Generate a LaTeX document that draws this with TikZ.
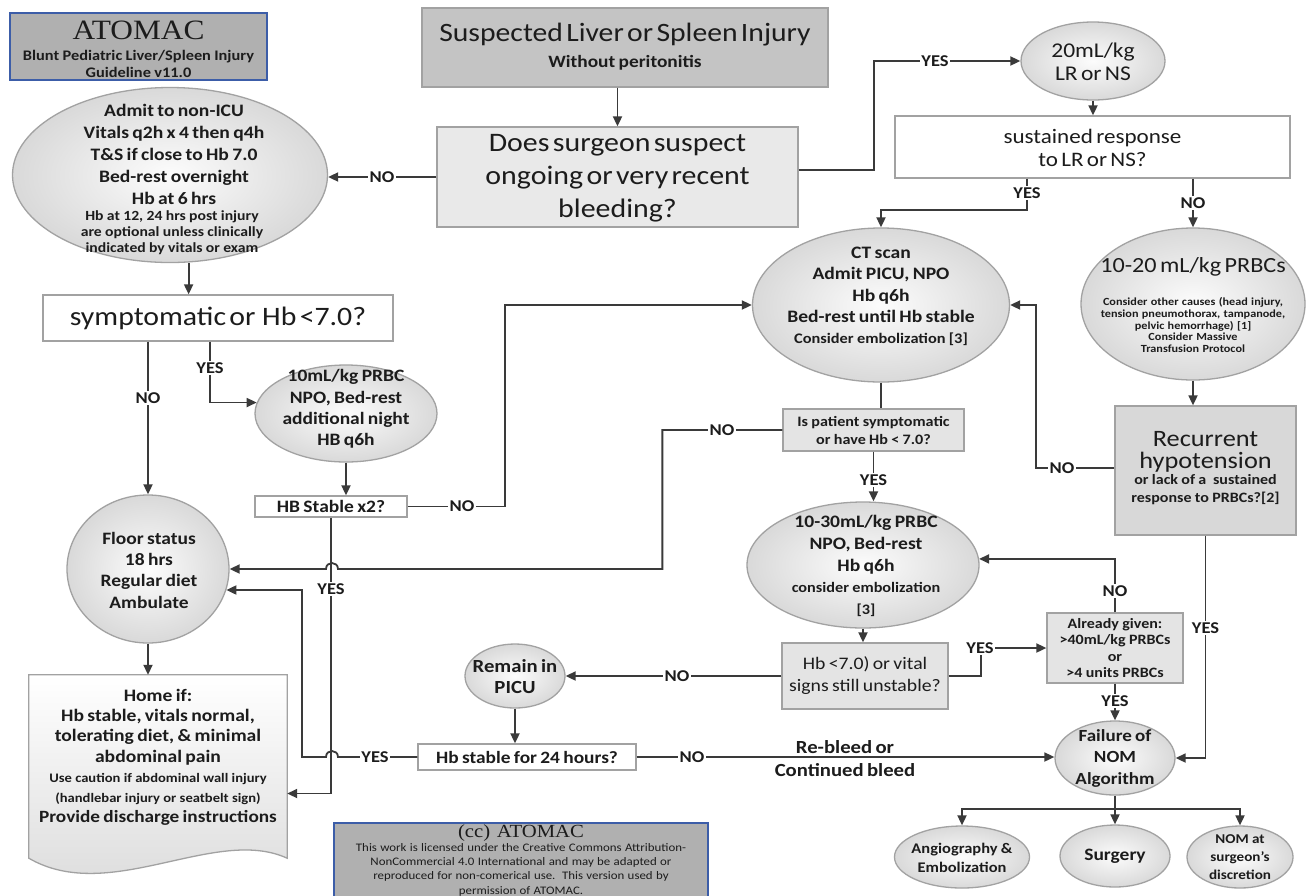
\documentclass[tikz,border=0pt]{standalone}
\usepackage{fontspec}
\setmainfont{Carlito}[FakeStretch=1.12, WordSpace=1.35]
\newfontfamily\serifont{Liberation Serif}[FakeStretch=1.12]
\usetikzlibrary{shapes.geometric,arrows.meta,calc}
\newcommand\myfs[2]{\fontsize{#1}{#2}\selectfont}
\definecolor{lc}{HTML}{3A3A3A}
\definecolor{bc}{HTML}{A2A2A2}
\definecolor{tc}{HTML}{1C1C1C}
\definecolor{elo}{HTML}{D9D9D9}
\definecolor{eli}{HTML}{FCFCFC}
\definecolor{susf}{HTML}{C4C4C4}
\definecolor{decf}{HTML}{E9E9E9}
\definecolor{lgf}{HTML}{E4E4E4}
\definecolor{recf}{HTML}{D8D8D8}
\definecolor{atf}{HTML}{B0B0B0}
\definecolor{atb}{HTML}{3C5DA8}
\definecolor{homeg}{HTML}{DADADA}
\tikzset{
  conn/.style={draw=lc, line width=1.8pt},
  arr/.style={conn, -{Triangle[length=10pt,width=9pt]}},
  shp/.style={draw=bc, line width=1.3pt, inner sep=0pt},
  ell/.style={shp, ellipse, inner color=eli, outer color=elo},
  box/.style={shp, rectangle},
  ttl/.style={rectangle, draw=atb, line width=2pt, fill=atf, inner sep=0pt},
  txt/.style={align=center, inner sep=0pt, text=tc,
    execute at begin node={\setlength{\parindent}{0pt}\setlength{\lineskiplimit}{-50pt}}},
  lab/.style={fill=white, inner sep=1.2pt, text=tc, font={\bfseries\myfs{16.5}{18}}}
}
\begin{document}
\begin{tikzpicture}[x=1pt,y=-1pt]
\useasboundingbox (0,0) rectangle (1311,895);
\fill[white] (0,0) rectangle (1311,895);
\clip (0,0) rectangle (1311,895);

% ---------- title boxes
\node[ttl, minimum width=257, minimum height=67] (atom) at (138.5,46.5) {};
\node[txt, text width=250] (atomt) at (138.5,49) {{\serifont\myfs{28}{26}ATOMAC\par}{\bfseries\myfs{14.6}{21}Blunt Pediatric Liver/Spleen Injury\par}{\bfseries\myfs{14.6}{17}Guideline v11.0\par}};

\node[ttl, minimum width=374, minimum height=90, anchor=north] (cc) at (521,822) {};
\node[txt, text width=370, anchor=north] (cct) at (521,824) {{\serifont\myfs{18.5}{18}(cc)\ \ ATOMAC\par}{\myfs{11.5}{14.3}This work is licensed under the Creative Commons Attribution-\\NonCommercial 4.0 International and may be adapted or\\reproduced for non-comerical use.\ \ This version used by\\permission of ATOMAC.\par}};

% ---------- top
\node[box, fill=susf, minimum width=406, minimum height=79] (susp) at (625,47.5) {};
\node[txt, text width=400] (suspt) at (625,46.5) {{\myfs{26.5}{26}Suspected Liver or Spleen Injury\par}{\bfseries\myfs{17.3}{26}Without peritonitis\par}};

\node[box, fill=decf, minimum width=361, minimum height=100] (dec) at (617.5,177) {};
\node[txt, text width=355] (dect) at (617.5,178) {\myfs{26.7}{33}Does surgeon suspect\\ongoing or very recent\\bleeding?\par};

\node[ell, minimum width=315, minimum height=175] (adm) at (170,175) {};
\node[txt, text width=300] (admt1) at (174,154) {\bfseries\myfs{17.5}{22}Admit to non-ICU\\Vitals q2h x 4 then q4h\\T\&S if close to Hb 7.0\\Bed-rest overnight\\Hb at 6 hrs\par};
\node[txt, text width=300] (admt2) at (172,232.5) {\bfseries\myfs{14}{16.3}Hb at 12, 24 hrs post injury\\are optional unless clinically\\indicated by vitals or exam\par};

\node[ell, minimum width=144, minimum height=78] (ml20) at (1093,61) {};
\node[txt, text width=140] (ml20t) at (1093,62) {\myfs{21}{23}20mL/kg\\LR or NS\par};

\node[box, fill=white, minimum width=395, minimum height=62] (sus) at (1092.5,147) {};
\node[txt, text width=390] (sust) at (1092.5,148) {\myfs{20.6}{23}sustained response\\to LR or NS?\par};

% ---------- middle right
\node[ell, minimum width=257, minimum height=154] (ct) at (881,305) {};
\node[txt, text width=250] (ctt) at (881,296) {{\bfseries\myfs{17.5}{21.5}CT scan\\Admit PICU, NPO\\Hb q6h\\Bed-rest until Hb stable\par}{\bfseries\myfs{14.6}{20.5}Consider embolization [3]\par}};

\node[ell, minimum width=224, minimum height=152] (p1020) at (1193,304) {};
\node[txt, text width=220] (p1020a) at (1193,267) {\myfs{21.6}{24}10-20 mL/kg PRBCs\par};
\node[txt, text width=220] (p1020b) at (1193,325) {\bfseries\myfs{10.9}{11.6}Consider other causes (head injury,\\tension pneumothorax, tampanode,\\pelvic hemorrhage) [1]\\Consider Massive\\Transfusion Protocol\par};

\node[box, fill=recf, minimum width=181, minimum height=129] (rec) at (1205.5,470.5) {};
\node[txt, text width=178] (reca) at (1205.5,452) {\myfs{23.5}{21.5}Recurrent\\hypotension\par};
\node[txt, text width=178] (recb) at (1205.5,490) {\bfseries\myfs{14.3}{18}or lack of a\ \ sustained\\response to PRBCs?[2]\par};

\node[box, fill=lgf, minimum width=181, minimum height=42] (ip) at (873.5,430) {};
\node[txt, text width=178] (ipt) at (873.5,430) {\bfseries\myfs{14.4}{18}Is patient symptomatic\\or have Hb < 7.0?\par};

\node[ell, minimum width=232, minimum height=126] (p1030) at (863,565) {};
\node[txt, text width=228] (p1030t) at (866,566) {{\bfseries\myfs{17.5}{21.7}10-30mL/kg PRBC\\NPO, Bed-rest\\Hb q6h\par}{\bfseries\myfs{14.5}{21.7}consider embolization\\{[3]}\par}};

\node[box, fill=lgf, minimum width=166, minimum height=66] (hbv) at (865,676) {};
\node[txt, text width=164] (hbvt) at (865,676) {\myfs{17.6}{22}Hb <7.0) or vital\\signs still unstable?\par};

\node[box, fill=lgf, minimum width=136, minimum height=70] (ag) at (1115,648) {};
\node[txt, text width=134] (agt) at (1115,648) {\bfseries\myfs{14.3}{16.5}Already given:\\>40mL/kg PRBCs\\or\\>4 units PRBCs\par};

\node[ell, minimum width=120, minimum height=74] (fail) at (1115,758) {};
\node[txt, text width=118] (failt) at (1115,758) {\bfseries\myfs{17}{21.5}Failure of\\NOM\\Algorithm\par};

\node[ell, minimum width=135, minimum height=62] (ang) at (962,857) {};
\node[txt, text width=130] (angt) at (962,857.5) {\bfseries\myfs{14.7}{19}Angiography \&\\Embolization\par};
\node[ell, minimum width=110, minimum height=62] (surg) at (1115,856) {};
\node[txt, text width=105] (surgt) at (1115,856) {\bfseries\myfs{17.4}{20}Surgery\par};
\node[ell, minimum width=106, minimum height=62] (nomd) at (1240,857) {};
\node[txt, text width=104] (nomdt) at (1240,857) {\bfseries\myfs{13.5}{18}NOM at\\surgeon’s\\discretion\par};

% ---------- bottom middle
\node[ell, minimum width=100, minimum height=64] (rem) at (515,676) {};
\node[txt, text width=98] (remt) at (515,676.5) {\bfseries\myfs{18.5}{21}Remain in\\PICU\par};

\node[box, fill=white, minimum width=218, minimum height=26] (h24) at (527,757) {};
\node[txt, text width=215] (h24t) at (527,757) {\bfseries\myfs{17.3}{20}Hb stable for 24 hours?\par};

% ---------- left
\node[box, fill=white, minimum width=350, minimum height=46] (sym) at (218,318) {};
\node[txt, text width=345] (symt) at (218,318) {\myfs{26.6}{30}symptomatic or\ \ Hb <7.0?\par};

\node[ell, minimum width=182, minimum height=97] (ml10) at (346,413.5) {};
\node[txt, text width=178] (ml10t) at (346,409) {\bfseries\myfs{17.4}{21.3}10mL/kg PRBC\\NPO, Bed-rest\\additional night\\HB q6h\par};

\node[box, fill=white, minimum width=152, minimum height=21] (hbs) at (331,506.5) {};
\node[txt, text width=150] (hbst) at (331,506.5) {\bfseries\myfs{17.4}{20}HB Stable x2?\par};

\node[ell, minimum width=162, minimum height=148] (floor) at (148,569) {};
\node[txt, text width=158] (floort) at (149,570) {\bfseries\myfs{17.4}{21.3}Floor status\\18 hrs\\Regular diet\\Ambulate\par};

\node[minimum width=258, minimum height=183, inner sep=0pt] (home) at (158,766.5) {};
\path[draw=bc, line width=1.3pt, top color=white, bottom color=homeg] (home.north west) -- (home.north east) -- (home.south east) .. controls +(-72,-33) and +(81,47) .. (home.south west) -- cycle;
\node[txt, text width=256] (homet) at (158,757.5) {\bfseries\myfs{17.5}{20.2}Home if:\\Hb stable, vitals normal,\\tolerating diet, \& minimal\\abdominal pain\\{\myfs{13}{20.2}Use caution if abdominal wall injury}\\{\myfs{13}{20.2}(handlebar injury or seatbelt sign)}\\{\myfs{17.2}{20.2}Provide discharge instructions}\par};

% ---------- connectors
\draw[arr] (dec.north |- susp.south) -- (dec.north);
\draw[arr] (dec.west) -- (dec.west -| adm.east);
\draw[arr] ([yshift=7pt]dec.east) -- ++(75,0) |- (ml20.west);
\draw[arr] (ml20.south) -- (ml20.south |- sus.north);
\draw[arr] ([xshift=-65.5pt]sus.south) -- ++(0,31) -| (ct.north);
\draw[arr] (p1020.north |- sus.south) -- (p1020.north);
\draw[arr] (p1020.south) -- (p1020.south |- rec.north);
\draw[arr] ([yshift=2.5pt]rec.west) -- ++(-78,0) |- (ct.east);
\draw[arr] (rec.south) |- (fail.east);
\draw[conn] (ct.south) -- (ct.south |- ip.north);
\draw[arr] (ip.south) -- (ip.south |- p1030.north);
\draw[arr] (ip.west) -- ++(-120,0) -- ++(0,139) -- (338,569) .. controls (338,561) and (326,561) .. (326,569) -- (floor.east);
\draw[arr] (p1030.south) -- (p1030.south |- hbv.north);
\draw[arr] (hbv.west) -- (rem.east);
\draw[arr] (hbv.east) -- ++(32,0) |- (ag.west);
\draw[arr] (ag.north) |- (p1030.3);
\draw[arr] (ag.south) -- (fail.north);
\draw[arr] (rem.south) -- (rem.south |- h24.north);
\draw[arr] (h24.east) -- (h24.east -| fail.west);
\draw[arr] (h24.west) -- (338,757) .. controls (338,749) and (326,749) .. (326,757) -- (302,757) |- (floor.-15);
\coordinate (jn) at (1115,809);
\draw[arr] (fail.south) -- (surg.north);
\draw[arr] (jn) -| (ang.north);
\draw[arr] (jn) -| (nomd.north);
\draw[arr] (floor.south) -- (floor.south |- home.north);
\draw[arr] (hbs.south) |- ([yshift=-27pt]home.east);
\draw[arr] (hbs.east) -- ++(97,0) |- (ct.west);
\draw[arr] (ml10.south) -- (ml10.south |- hbs.north);
\draw[arr] ([xshift=-8pt]sym.south) |- (ml10.173);
\draw[arr] (floor.north |- sym.south) -- (floor.north);
\draw[arr] (adm.-78) -- (adm.-78 |- sym.north);

% ---------- labels
\node[lab] (l1) at (382,177) {NO};
\node[lab] (l2) at (935,61) {YES};
\node[lab] (l3) at (1027,193) {YES};
\node[lab] (l4) at (1193,203) {NO};
\node[lab] (l5) at (148,398) {NO};
\node[lab] (l6) at (210,368) {YES};
\node[lab] (l7) at (462,506.5) {NO};
\node[lab] (l8) at (331,589) {YES};
\node[lab] (l9) at (722,430) {NO};
\node[lab] (l10) at (873.5,480) {YES};
\node[lab] (l11) at (1062,468) {NO};
\node[lab] (l12) at (1205.5,628) {YES};
\node[lab] (l13) at (980,648) {YES};
\node[lab] (l14) at (677,676) {NO};
\node[lab] (l15) at (1115,591) {NO};
\node[lab] (l16) at (1115,701) {YES};
\node[lab] (l17) at (375,757) {YES};
\node[lab] (l18) at (692,757) {NO};
\node[txt, text width=200, anchor=base] (rb1) at (845,753.5) {\bfseries\myfs{18.5}{20}Re-bleed or\par};
\node[txt, text width=200, anchor=base] (rb2) at (845,776) {\bfseries\myfs{18.5}{20}Continued bleed\par};
\end{tikzpicture}
\end{document}
